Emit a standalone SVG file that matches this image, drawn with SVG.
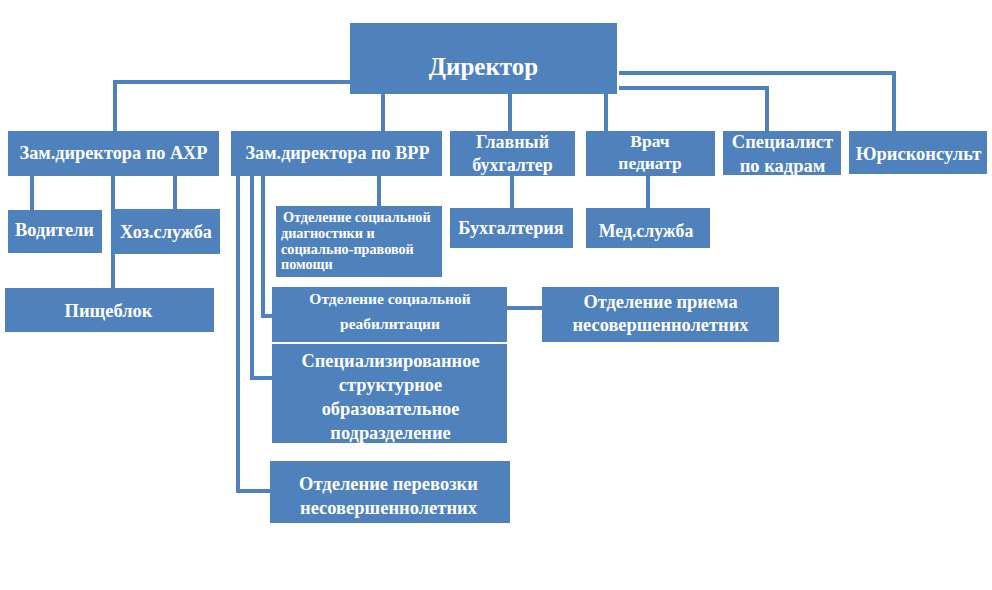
<svg xmlns="http://www.w3.org/2000/svg" width="992" height="590" viewBox="0 0 992 590">
<style>
.box{fill:#4F81BD}
.t{font-family:'Liberation Serif',serif;font-weight:bold;fill:#FFFFFF;text-anchor:middle}
.tl{text-anchor:start}
.c{fill:none;stroke:#4F81BD;stroke-width:4}
</style>
<rect width="992" height="590" fill="#FFFFFF"/>
<g id="connectors">
<path class="c" d="M350,82 H115 V131"/>
<path class="c" d="M383,94 V131"/>
<path class="c" d="M510,94 V131"/>
<path class="c" d="M606,94 V131"/>
<path class="c" d="M619,88 H767 V131"/>
<path class="c" d="M619,73 H894 V131"/>
<path class="c" d="M32,176 V210"/>
<path class="c" d="M113,176 V288"/>
<path class="c" d="M175,176 V209"/>
<path class="c" d="M379,176 V206"/>
<path class="c" d="M263,176 V316 H272"/>
<path class="c" d="M252,176 V378 H272"/>
<path class="c" d="M238,176 V491 H270"/>
<path class="c" d="M512,176 V208"/>
<path class="c" d="M648,176 V208"/>
<path class="c" d="M507,308 H542"/>
</g>
<g id="director"><rect class="box" x="350" y="23" width="267" height="71"/><text class="t" x="483.5" y="75" font-size="25">Директор</text></g>
<g id="axr"><rect class="box" x="8" y="131" width="211" height="45"/><text class="t" x="113.5" y="159" font-size="18.3">Зам.директора по АХР</text></g>
<g id="vrr"><rect class="box" x="231" y="131" width="211" height="45"/><text class="t" x="337.5" y="159" font-size="18.2">Зам.директора по ВРР</text></g>
<g id="glav"><rect class="box" x="450" y="131" width="125" height="45"/><text class="t" x="512.5" y="148" font-size="18">Главный</text><text class="t" x="512.5" y="171" font-size="18">бухгалтер</text></g>
<g id="vrach"><rect class="box" x="586" y="131" width="129" height="45"/><text class="t" x="650" y="147" font-size="17.5">Врач</text><text class="t" x="650" y="169" font-size="17.5">педиатр</text></g>
<g id="spec"><rect class="box" x="723" y="131" width="118" height="44"/><text class="t" x="782.5" y="148" font-size="18.5">Специалист</text><text class="t" x="782.5" y="172" font-size="18.5">по кадрам</text></g>
<g id="yur"><rect class="box" x="849" y="131" width="138" height="43"/><text class="t" x="918.5" y="160" font-size="18.5">Юрисконсульт</text></g>
<g id="vod"><rect class="box" x="8" y="210" width="94" height="43"/><text class="t" x="54.5" y="236" font-size="18.4">Водители</text></g>
<g id="hoz"><rect class="box" x="114" y="209" width="106" height="45"/><text class="t" x="166" y="238" font-size="18.2">Хоз.служба</text></g>
<g id="pish"><rect class="box" x="5" y="288" width="209" height="44"/><text class="t" x="108.5" y="317" font-size="18.5">Пищеблок</text></g>
<g id="diag"><rect class="box" x="276" y="206" width="166" height="71"/><text class="t tl" x="283" y="222" font-size="14.2">Отделение социальной</text><text class="t tl" x="281" y="238" font-size="14.2">диагностики и</text><text class="t tl" x="281" y="254" font-size="14.2">социально-правовой</text><text class="t tl" x="281" y="269" font-size="14.2">помощи</text></g>
<g id="buh"><rect class="box" x="450" y="208" width="123" height="40"/><text class="t" x="511" y="234" font-size="18.3">Бухгалтерия</text></g>
<g id="med"><rect class="box" x="586" y="208" width="124" height="40"/><text class="t" x="646" y="237" font-size="17.8">Мед.служба</text></g>
<g id="reab"><rect class="box" x="272" y="287" width="235" height="55"/><text class="t" x="390" y="304" font-size="15.5">Отделение социальной</text><text class="t" x="390" y="329" font-size="15.5">реабилитации</text></g>
<g id="spz"><rect class="box" x="272" y="344" width="235" height="99"/><text class="t" x="390.5" y="367" font-size="18.4">Специализированное</text><text class="t" x="390.5" y="391" font-size="18.4">структурное</text><text class="t" x="390.5" y="415" font-size="18.4">образовательное</text><text class="t" x="390.5" y="439" font-size="18.4">подразделение</text></g>
<g id="priem"><rect class="box" x="542" y="287" width="237" height="55"/><text class="t" x="660.5" y="308" font-size="18.4">Отделение приема</text><text class="t" x="660.5" y="331" font-size="18.4">несовершеннолетних</text></g>
<g id="perev"><rect class="box" x="270" y="461" width="240" height="62"/><text class="t" x="388.5" y="490" font-size="18.5">Отделение перевозки</text><text class="t" x="388.5" y="514" font-size="18.5">несовершеннолетних</text></g>
</svg>
